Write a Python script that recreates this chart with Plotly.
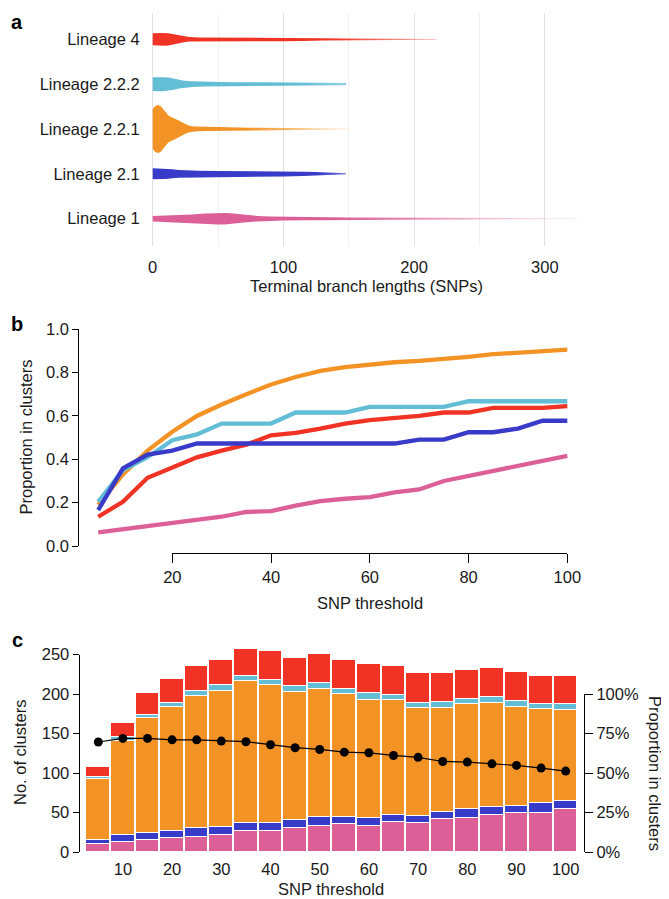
import plotly.graph_objects as go

# ---------------- data ----------------
lineages = ["Lineage 1", "Lineage 2.1", "Lineage 2.2.1", "Lineage 2.2.2", "Lineage 4"]

# panel a: violin outlines (branch length, half-width density)
l1_x = [0, 10, 20, 30, 40, 50, 55, 60, 65, 70, 80, 90, 100, 120, 150, 180, 200, 250, 300, 328]
l1_w = [2.7, 3.0, 3.6, 4.3, 5.2, 5.8, 5.8, 5.4, 4.7, 3.9, 2.8, 2.2, 1.9, 1.6, 1.3, 1.0, 0.8, 0.6, 0.5, 0.4]
l21_x = [0, 10, 15, 20, 25, 35, 50, 75, 100, 115, 125, 135, 142, 148]
l21_w = [5.5, 5.2, 4.5, 3.8, 3.3, 3.0, 2.9, 2.8, 2.6, 2.2, 1.8, 1.3, 0.9, 0.5]
l221_x = [0, 2, 4, 6, 8, 10, 12, 14, 16, 18, 20, 22, 25, 28, 32, 40, 50, 75, 100, 125, 151]
l221_w = [20, 23, 24, 23, 20, 16.5, 13.5, 12, 11, 9.8, 8.5, 7, 4.8, 3.3, 2.5, 2.1, 1.9, 1.3, 1.0, 0.8, 0.6]
l222_x = [0, 4, 8, 12, 16, 20, 24, 30, 40, 60, 80, 100, 125, 148]
l222_w = [6.8, 7.0, 7.0, 6.6, 5.6, 4.4, 3.5, 2.8, 2.3, 2.0, 1.8, 1.5, 1.3, 1.2]
l4_x = [0, 4, 8, 12, 16, 20, 24, 28, 35, 50, 75, 100, 115, 130, 145, 160, 190, 217]
l4_w = [6.0, 6.3, 6.4, 6.1, 5.2, 4.0, 3.0, 2.3, 1.9, 1.8, 1.9, 2.0, 1.6, 1.1, 0.8, 0.6, 0.5, 0.4]
branch_ticks = [0, 100, 200, 300]

# panel b: proportion in clusters by SNP threshold
thresholds = [5, 10, 15, 20, 25, 30, 35, 40, 45, 50, 55, 60, 65, 70, 75, 80, 85, 90, 95, 100]
prop_l1 = [0.063, 0.078, 0.089, 0.108, 0.121, 0.135, 0.157, 0.161, 0.186, 0.207, 0.218, 0.226, 0.247, 0.261, 0.300, 0.323, 0.346, 0.369, 0.390, 0.416]
prop_l21 = [0.166, 0.358, 0.422, 0.440, 0.473, 0.473, 0.473, 0.473, 0.473, 0.473, 0.473, 0.473, 0.473, 0.491, 0.491, 0.525, 0.525, 0.542, 0.578, 0.578]
prop_l221 = [0.190, 0.330, 0.440, 0.527, 0.600, 0.653, 0.700, 0.745, 0.780, 0.808, 0.826, 0.839, 0.848, 0.854, 0.862, 0.873, 0.885, 0.892, 0.899, 0.906]
prop_l222 = [0.204, 0.350, 0.410, 0.488, 0.515, 0.565, 0.565, 0.565, 0.616, 0.616, 0.616, 0.642, 0.642, 0.642, 0.642, 0.668, 0.668, 0.668, 0.668, 0.668]
prop_l4 = [0.135, 0.204, 0.315, 0.361, 0.409, 0.440, 0.468, 0.511, 0.522, 0.542, 0.565, 0.581, 0.591, 0.600, 0.616, 0.616, 0.637, 0.637, 0.637, 0.645]
prop_ticks = [0, 0.2, 0.4, 0.6, 0.8, 1.0]
snp_ticks_b = [20, 40, 60, 80, 100]

# panel c: number of clusters (stacked) and overall proportion in clusters (%)
n_l1 = [10, 13, 15, 18, 19, 22, 26, 27, 31, 33, 35, 33, 38, 37, 42, 43, 47, 49, 50, 54]
n_l21 = [5, 9, 9, 9, 11, 10, 11, 10, 9, 11, 9, 10, 9, 9, 9, 11, 10, 9, 12, 10]
n_l221 = [77, 118, 145, 156, 167, 172, 179, 174, 163, 162, 156, 150, 145, 136, 131, 133, 131, 126, 119, 116]
n_l222 = [3, 6, 5, 5, 7, 7, 7, 7, 7, 8, 6, 8, 7, 7, 8, 7, 8, 7, 6, 7]
n_l4 = [13, 17, 27, 31, 32, 32, 34, 37, 36, 37, 37, 37, 37, 37, 37, 37, 37, 37, 36, 36]
pct_clustered = [69.6, 71.9, 71.9, 71.0, 71.0, 70.2, 69.8, 67.9, 66.0, 64.9, 63.2, 62.8, 61.1, 59.9, 57.3, 56.9, 55.8, 54.8, 53.1, 51.2]
count_ticks = [0, 50, 100, 150, 200, 250]
pct_ticks = [0, 25, 50, 75, 100]
pct_labels = ["0%", "25%", "50%", "75%", "100%"]
snp_ticks_c = [10, 20, 30, 40, 50, 60, 70, 80, 90, 100]

# ---------------- style ----------------
W, H = 669, 899
OFF = 8  # the page body adds an 8 px margin at the top-left
FONT = "Liberation Sans, Arial, Helvetica, sans-serif"
FS = 16.5
TXT = "#1a1a1a"
COL = {
    "Lineage 1": (220, 95, 152),
    "Lineage 2.1": (56, 58, 200),
    "Lineage 2.2.1": (243, 147, 37),
    "Lineage 2.2.2": (98, 189, 213),
    "Lineage 4": (240, 51, 36),
}
FADE = {  # (fade start, final alpha)
    "Lineage 1": (140, 0.10),
    "Lineage 2.1": (125, 0.75),
    "Lineage 2.2.1": (70, 0.15),
    "Lineage 2.2.2": (110, 0.7),
    "Lineage 4": (140, 0.35),
}


def rgb(c, a=1.0):
    return f"rgba({c[0]},{c[1]},{c[2]},{a})"


def px(v):
    return (v - OFF) / (W - OFF)


def py(v):
    return 1 - (v - OFF) / (H - OFF)


fig = go.Figure()

# ---------- panel a ----------
ROW_PX = 44.85  # pixel spacing between lineage rows
profiles = {
    "Lineage 1": (l1_x, l1_w),
    "Lineage 2.1": (l21_x, l21_w),
    "Lineage 2.2.1": (l221_x, l221_w),
    "Lineage 2.2.2": (l222_x, l222_w),
    "Lineage 4": (l4_x, l4_w),
}
for i, name in enumerate(lineages):
    xs, ws = profiles[name]
    hw = [w / ROW_PX for w in ws]
    poly_x = list(xs) + list(reversed(xs))
    poly_y = [i + h for h in hw] + [i - h for h in reversed(hw)]
    c = COL[name]
    fs, aend = FADE[name]
    xend = xs[-1]
    fig.add_trace(go.Scatter(
        x=poly_x, y=poly_y, mode="lines", fill="toself",
        line=dict(width=0, color=rgb(c, 0)),
        fillcolor=rgb(c),
        fillgradient=dict(type="horizontal", start=0, stop=xend,
                          colorscale=[[0, rgb(c)], [fs / xend, rgb(c)], [1, rgb(c, aend)]]),
        xaxis="x", yaxis="y", showlegend=False, hoverinfo="skip"))

# ---------- panel b ----------
for name, vals in [("Lineage 1", prop_l1), ("Lineage 4", prop_l4), ("Lineage 2.2.1", prop_l221),
                   ("Lineage 2.2.2", prop_l222), ("Lineage 2.1", prop_l21)]:
    fig.add_trace(go.Scatter(x=thresholds, y=vals, mode="lines",
                             line=dict(color=rgb(COL[name]), width=4.3),
                             xaxis="x2", yaxis="y2", showlegend=False))
# detached x axis of panel b
fig.add_trace(go.Scatter(x=[], y=[], xaxis="x4", yaxis="y2", showlegend=False))

# ---------- panel c ----------
for name, vals in [("Lineage 1", n_l1), ("Lineage 2.1", n_l21), ("Lineage 2.2.1", n_l221),
                   ("Lineage 2.2.2", n_l222), ("Lineage 4", n_l4)]:
    fig.add_trace(go.Bar(x=thresholds, y=vals, width=5,
                         marker=dict(color=rgb(COL[name]), line=dict(color="white", width=1.5)),
                         xaxis="x3", yaxis="y3", showlegend=False))
fig.add_trace(go.Scatter(x=[], y=[], xaxis="x3", yaxis="y4", showlegend=False))
fig.add_trace(go.Scatter(x=thresholds, y=pct_clustered, mode="lines+markers",
                         line=dict(color="black", width=1.2),
                         marker=dict(color="black", size=9),
                         xaxis="x3", yaxis="y5", showlegend=False))

tickfont = dict(family=FONT, size=FS, color=TXT)

fig.update_layout(
    width=W - OFF, height=H - OFF, margin=dict(l=0, r=0, t=0, b=0, pad=0, autoexpand=False),
    paper_bgcolor="white", plot_bgcolor="rgba(0,0,0,0)",
    barmode="stack", bargap=0,
    font=dict(family=FONT, size=FS, color=TXT),
    # panel a
    xaxis=dict(domain=[px(145), px(600)], range=[(145 - 152.7) / 1.307, (600 - 152.7) / 1.307],
               anchor="y", tickvals=branch_ticks, showgrid=True, gridcolor="#e2e2e2", gridwidth=1.3,
               minor=dict(tickvals=[50, 150, 250], showgrid=True, gridcolor="#f1f1f1", gridwidth=1.3),
               zeroline=False, showline=False, ticks="outside", ticklen=6, tickcolor="rgba(0,0,0,0)",
               tickfont=tickfont, automargin=False),
    yaxis=dict(domain=[py(246), py(13)], range=[-0.609, 4.586], anchor="x",
               tickvals=list(range(len(lineages))), ticktext=lineages, showgrid=False,
               zeroline=False, showline=False, ticks="outside", ticklen=1, tickcolor="rgba(0,0,0,0)",
               tickfont=tickfont, automargin=False),
    # panel b
    xaxis2=dict(domain=[px(79.3), px(575)], range=[1.17, 101.56], anchor="y2",
                visible=False, automargin=False),
    yaxis2=dict(domain=[py(546), py(329.3)], range=[0, 1], anchor="x2",
                tickvals=prop_ticks, tickformat=".1f", showgrid=False, zeroline=False,
                showline=True, linecolor="black", linewidth=1.2, ticks="outside", ticklen=6,
                tickwidth=1.2, tickcolor="black", tickfont=tickfont, automargin=False),
    xaxis4=dict(domain=[px(172.3), px(567.3)], range=[20, 100], anchor="free", position=py(553.3),
                tickvals=snp_ticks_b, showgrid=False, zeroline=False, showline=True,
                linecolor="black", linewidth=1.2, ticks="outside", ticklen=9, tickwidth=1.2,
                tickcolor="black", tickfont=tickfont, automargin=False),
    # panel c
    xaxis3=dict(domain=[px(78.7), px(584)], range=[1.016, 103.72], anchor="y3",
                tickvals=snp_ticks_c, showgrid=False, zeroline=False, showline=False,
                ticks="outside", ticklen=2, tickcolor="rgba(0,0,0,0)", tickfont=tickfont,
                automargin=False),
    yaxis3=dict(domain=[py(852), py(640)], range=[0, (852 - 640) / 0.79], anchor="x3",
                visible=False, automargin=False),
    yaxis4=dict(domain=[py(852), py(654.7)], range=[0, 250], anchor="free", position=px(78.7),
                tickvals=count_ticks, showgrid=False, zeroline=False, showline=True,
                linecolor="black", linewidth=1.2, ticks="outside", ticklen=6, tickwidth=1.2,
                tickcolor="black", tickfont=tickfont, automargin=False),
    yaxis5=dict(domain=[py(852), py(694)], range=[0, 100], anchor="free", position=px(584),
                side="right", tickvals=pct_ticks, ticktext=pct_labels, showgrid=False,
                zeroline=False, showline=True, linecolor="black", linewidth=1.2, ticks="outside",
                ticklen=8, tickwidth=1.2, tickcolor="black", tickfont=tickfont, automargin=False),
)

ann = []
for lab, x, y in [("a", 17, 22), ("b", 17, 324), ("c", 17, 640)]:
    ann.append(dict(text=f"<b>{lab}</b>", x=px(x), y=py(y), xref="paper", yref="paper",
                    showarrow=False, font=dict(family=FONT, size=20, color="black"),
                    xanchor="center", yanchor="middle"))
for text, x, y, ang in [
    ("Terminal branch lengths (SNPs)", 366, 286, 0),
    ("SNP threshold", 370, 603, 0),
    ("Proportion in clusters", 25, 437.5, -90),
    ("SNP threshold", 331, 889, 0),
    ("No. of clusters", 20, 753, -90),
    ("Proportion in clusters", 655, 773, 90),
]:
    ann.append(dict(text=text, x=px(x), y=py(y), xref="paper", yref="paper", showarrow=False,
                    textangle=ang, font=dict(family=FONT, size=FS, color=TXT),
                    xanchor="center", yanchor="middle"))
fig.update_layout(annotations=ann)

fig.write_html("out.html", post_script="document.documentElement.style.overflow='hidden';")
